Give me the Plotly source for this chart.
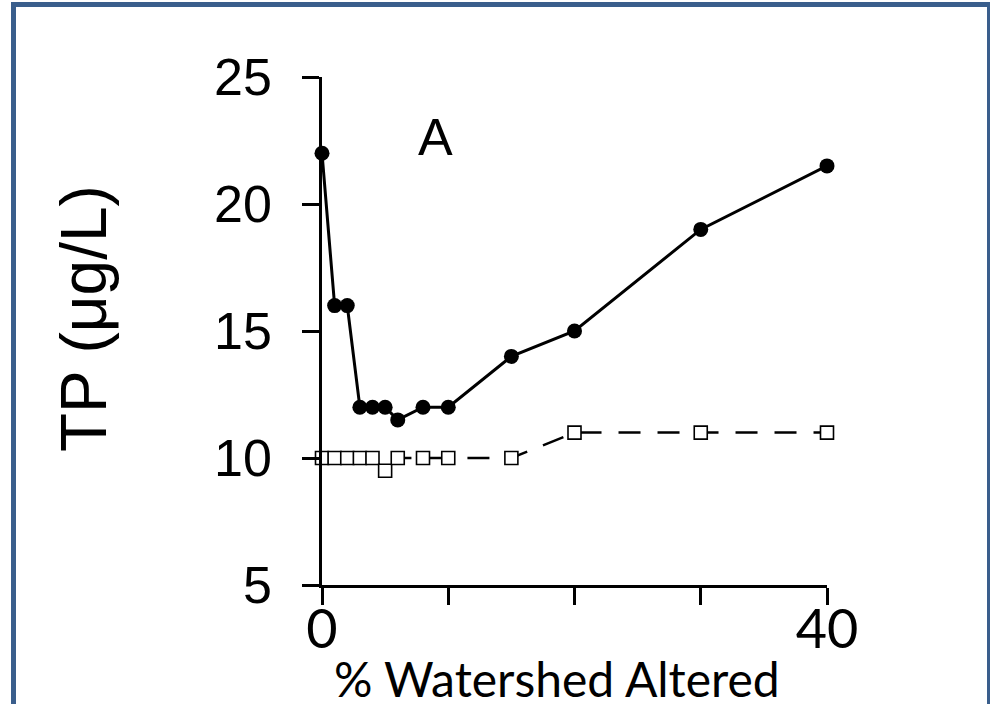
import plotly.graph_objects as go

# Data
pct_altered = [0, 1, 2, 3, 4, 5, 6, 8, 10, 15, 20, 30, 40]
tp_filled = [22, 16, 16, 12, 12, 12, 11.5, 12, 12, 14, 15, 19, 21.5]
pct_altered_open = [0, 1, 2, 3, 4, 5, 6, 8, 10, 15, 20, 30, 40]
tp_open = [10, 10, 10, 10, 10, 9.5, 10, 10, 10, 10, 11, 11, 11]
y_ticks = [5, 10, 15, 20, 25]
x_ticks = [0, 10, 20, 30, 40]
x_ticktext = ["0", "", "", "", "40"]

W, H = 990, 704
L, R, T, B = 322, 827, 77, 585


def px_x(p):
    return (p - L) / (R - L)


def px_y(p):
    return (B - p) / (B - T)


fig = go.Figure()

fig.add_trace(go.Scatter(
    x=pct_altered_open, y=tp_open, mode="lines+markers",
    line=dict(color="black", width=2.5, dash="22px,17px"),
    marker=dict(symbol="square", size=13, color="white",
                line=dict(color="black", width=1.6)),
    cliponaxis=False, showlegend=False))

fig.add_trace(go.Scatter(
    x=pct_altered, y=tp_filled, mode="lines+markers",
    line=dict(color="black", width=3),
    marker=dict(symbol="circle", size=15, color="black"),
    cliponaxis=False, showlegend=False))

fig.update_layout(
    width=W, height=H,
    margin=dict(l=L, r=W - R, t=T, b=H - B, pad=0),
    paper_bgcolor="white", plot_bgcolor="white",
    xaxis=dict(range=[0, 40], showgrid=False, zeroline=False,
               showline=True, linecolor="black", linewidth=2.5,
               ticks="outside", ticklen=17, tickwidth=2.5, tickcolor="black",
               tickvals=x_ticks, ticktext=x_ticktext,
               tickfont=dict(family="Lato", size=54, color="black"),
               ticklabelstandoff=-22),
    yaxis=dict(range=[5, 25], showgrid=False, zeroline=False,
               showline=True, linecolor="black", linewidth=2.5,
               ticks="outside", ticklen=17, tickwidth=2.5, tickcolor="black",
               tickvals=y_ticks,
               tickfont=dict(family="Liberation Sans", size=52, color="black"),
               ticklabelstandoff=20),
)

fig.add_annotation(x=9, y=22.65, xref="x", yref="y", text="A", showarrow=False,
                   font=dict(family="Liberation Sans", size=52, color="black"),
                   xanchor="center", yanchor="middle")

fig.add_annotation(x=px_x(84), y=px_y(319), xref="paper", yref="paper",
                   text="TP (μg/L)", textangle=-90, showarrow=False,
                   font=dict(family="Liberation Sans", size=64, color="black"),
                   xanchor="center", yanchor="middle")

fig.add_annotation(x=px_x(557), y=px_y(678), xref="paper", yref="paper",
                   text="% Watershed Altered", showarrow=False,
                   font=dict(family="Lato", size=48, color="black"),
                   xanchor="center", yanchor="middle")

# blue frame
fig.add_shape(type="rect", xref="paper", yref="paper",
              x0=px_x(13.5), x1=px_x(989.5), y0=px_y(4.5), y1=px_y(730),
              line=dict(color="#3a5e8c", width=5), fillcolor="rgba(0,0,0,0)",
              layer="above")

fig.write_html("out.html")
